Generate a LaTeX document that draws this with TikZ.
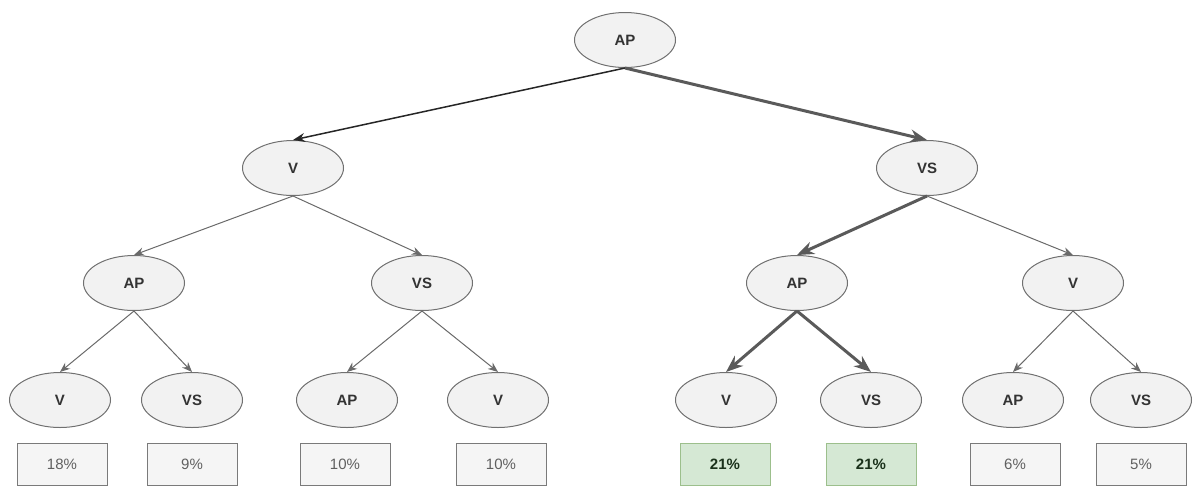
\documentclass[tikz,border=0pt]{standalone}
\usepackage{fontspec}
\setmainfont{Liberation Sans}
\usetikzlibrary{arrows.meta,shapes.geometric}
\definecolor{nodefill}{HTML}{F2F2F2}
\definecolor{nodeline}{HTML}{707070}
\definecolor{labeltext}{HTML}{333333}
\definecolor{boxfill}{HTML}{F5F5F5}
\definecolor{boxline}{HTML}{7A7A7A}
\definecolor{boxtext}{HTML}{606060}
\definecolor{goodfill}{HTML}{D5E8D4}
\definecolor{goodline}{HTML}{9CBF8C}
\definecolor{edgegray}{HTML}{6A6A6A}
\definecolor{heavygray}{HTML}{5A5A5A}
\begin{document}
\begin{tikzpicture}[x=1pt,y=-1pt,
  state/.style={ellipse, draw=nodeline, fill=nodefill, line width=1pt,
    minimum width=101pt, minimum height=55pt, inner sep=0pt,
    font=\fontsize{15}{18}\selectfont\bfseries, text=labeltext},
  result/.style={rectangle, draw=boxline, fill=boxfill, line width=1pt,
    minimum width=90pt, minimum height=42pt, inner sep=0pt,
    font=\fontsize{15}{18}\selectfont, text=boxtext},
  best/.style={result, draw=goodline, fill=goodfill,
    font=\fontsize{15}{18}\selectfont\bfseries, text=labeltext!85!green!60!black},
  thin/.style={draw=edgegray, line width=1pt,
    -{Stealth[length=10pt,width=8pt]}},
  dark/.style={draw=black!85, line width=1.5pt,
    -{Stealth[length=12pt,width=9pt]}},
  heavy/.style={draw=heavygray, line width=3pt,
    -{Stealth[length=17pt,width=13pt]}}
]
\useasboundingbox (0,0) rectangle (1197,488);

% level 0
\node[state] (r) at (625,40) {AP};
% level 1
\node[state] (a) at (293,168) {V};
\node[state] (b) at (927,168) {VS};
% level 2
\node[state] (aa) at (134,283) {AP};
\node[state] (ab) at (422,283) {VS};
\node[state] (ba) at (797,283) {AP};
\node[state] (bb) at (1073,283) {V};
% level 3
\node[state] (aaa) at (60,400) {V};
\node[state] (aab) at (192,400) {VS};
\node[state] (aba) at (347,400) {AP};
\node[state] (abb) at (498,400) {V};
\node[state] (baa) at (726,400) {V};
\node[state] (bab) at (871,400) {VS};
\node[state] (bba) at (1013,400) {AP};
\node[state] (bbb) at (1141,400) {VS};
% outcome shares
\node[result] (p1) at (62,464) {18\%};
\node[result] (p2) at (192,464) {9\%};
\node[result] (p3) at (345,464) {10\%};
\node[result] (p4) at (501,464) {10\%};
\node[best]   (p5) at (725,464) {21\%};
\node[best]   (p6) at (871,464) {21\%};
\node[result] (p7) at (1015,464) {6\%};
\node[result] (p8) at (1141,464) {5\%};

% branches
\draw[dark]  (r.south) -- (a.north);
\draw[heavy] (r.south) -- (b.north);
\draw[thin]  (a.south) -- (aa.north);
\draw[thin]  (a.south) -- (ab.north);
\draw[heavy] (b.south) -- (ba.north);
\draw[thin]  (b.south) -- (bb.north);
\draw[thin]  (aa.south) -- (aaa.north);
\draw[thin]  (aa.south) -- (aab.north);
\draw[thin]  (ab.south) -- (aba.north);
\draw[thin]  (ab.south) -- (abb.north);
\draw[heavy] (ba.south) -- (baa.north);
\draw[heavy] (ba.south) -- (bab.north);
\draw[thin]  (bb.south) -- (bba.north);
\draw[thin]  (bb.south) -- (bbb.north);
\end{tikzpicture}
\end{document}
